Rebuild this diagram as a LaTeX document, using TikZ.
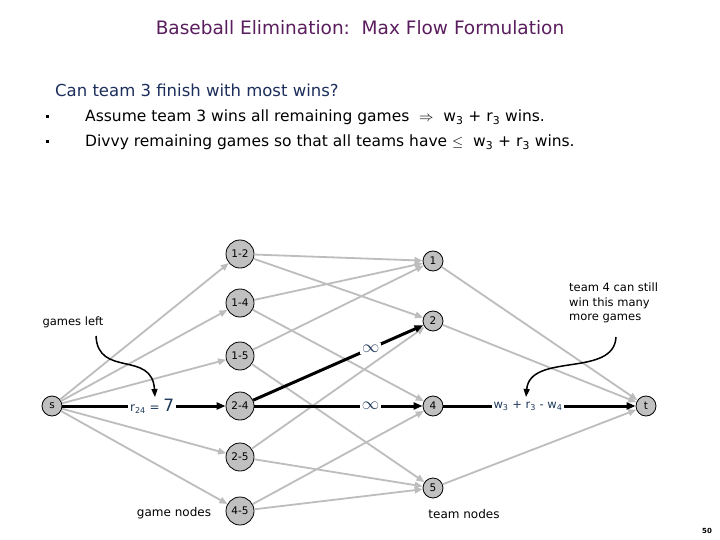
\documentclass[tikz,border=0pt]{standalone}
\usepackage{fontspec}
\setmainfont{DejaVu Sans}
\usetikzlibrary{arrows.meta}
\definecolor{ttl}{HTML}{5A1E5E}
\definecolor{qblue}{HTML}{1C2E5C}
\definecolor{lblue}{HTML}{1F3A5A}
\definecolor{edgegray}{HTML}{BDBDBD}
\definecolor{nodegray}{HTML}{C0C0C0}
\begin{document}
\begin{tikzpicture}[x=1pt,y=-1pt,
 game/.style={circle,draw=black,line width=0.8pt,fill=nodegray,minimum size=28pt,inner sep=0pt,font=\fontsize{10.5}{12}\selectfont},
 team/.style={circle,draw=black,line width=0.8pt,fill=nodegray,minimum size=20pt,inner sep=0pt,font=\fontsize{10.5}{12}\selectfont},
 gedge/.style={draw=edgegray,line width=1.8pt,-{Triangle[length=8pt,width=6.5pt]}},
 bedge/.style={draw=black,line width=3pt,-{Triangle[length=9pt,width=7pt]}},
 lbl/.style={fill=white,text=lblue,inner sep=2pt,font=\fontsize{12}{14}\selectfont},
 note/.style={font=\fontsize{11.5}{14.5}\selectfont,align=left,inner sep=0pt},
 curvy/.style={draw=black,line width=1.5pt,-{Triangle[length=8pt,width=6pt]}},
 bul/.style={font=\fontsize{15.5}{17}\selectfont,anchor=west,inner sep=0pt}]
\useasboundingbox (0,0) rectangle (720,540);
\fill[white] (0,0) rectangle (720,540);

% texts
\node[text=ttl,font=\fontsize{18.5}{20}\selectfont] (title) at (360,28) {Baseball Elimination:\ \ Max Flow Formulation};
\node[text=qblue,font=\fontsize{16.5}{18}\selectfont,anchor=west,inner sep=0pt] (q) at (55,90) {Can team 3 finish with most wins?};
\fill (46,115.5) rectangle (49,118.5);
\fill (46,140.5) rectangle (49,143.5);
\node[bul] (b1) at (85,117) {Assume team 3 wins all remaining games\ \ $\Rightarrow$\ \ w\textsubscript{3} + r\textsubscript{3} wins.};
\node[bul] (b2) at (85,142) {Divvy remaining games so that all teams have $\le$\ \ w\textsubscript{3} + r\textsubscript{3} wins.};

% nodes
\node[team] (s) at (52,406) {s};
\node[game] (g12) at (240,254) {1-2};
\node[game] (g14) at (240,303) {1-4};
\node[game] (g15) at (240,356) {1-5};
\node[game] (g24) at (240,406) {2-4};
\node[game] (g25) at (240,457) {2-5};
\node[game] (g45) at (240,511) {4-5};
\node[team] (t1) at (433,261) {1};
\node[team] (t2) at (433,321) {2};
\node[team] (t4) at (433,406) {4};
\node[team] (t5) at (433,488) {5};
\node[team] (t) at (646,406) {t};

% gray edges
\foreach \g in {g12,g14,g15,g25,g45} \draw[gedge] (s) -- (\g);
\draw[gedge] (g12) -- (t1);
\draw[gedge] (g12) -- (t2);
\draw[gedge] (g14) -- (t1);
\draw[gedge] (g14) -- (t4);
\draw[gedge] (g15) -- (t1);
\draw[gedge] (g15) -- (t5);
\draw[gedge] (g25) -- (t2);
\draw[gedge] (g25) -- (t5);
\draw[gedge] (g45) -- (t4);
\draw[gedge] (g45) -- (t5);
\draw[gedge] (t1) -- (t);
\draw[gedge] (t2) -- (t);
\draw[gedge] (t5) -- (t);

% black edges
\draw[bedge] (s) -- node[lbl,pos=0.55] {r\textsubscript{24} = {\fontsize{17}{17}\selectfont 7}} (g24);
\draw[bedge] (g24) -- node[lbl,pos=0.69,font=\fontsize{17}{17}\selectfont] {$\infty$} (t2);
\draw[bedge] (g24) -- node[lbl,pos=0.69,font=\fontsize{17}{17}\selectfont] {$\infty$} (t4);
\draw[bedge] (t4) -- node[lbl,pos=0.44,font=\fontsize{11.5}{14}\selectfont] {w\textsubscript{3} + r\textsubscript{3} - w\textsubscript{4}} (t);

% annotations
\node[note] (gl) at (73,322) {games left};
\node[note,anchor=north west] (tn4) at (569,283) {team 4 can still\\win this many\\more games};
\node[note,font=\fontsize{12}{14}\selectfont] (gn) at (174,513) {game nodes};
\node[note,font=\fontsize{12}{14}\selectfont] (tn) at (464,514) {team nodes};
\node[font=\bfseries\fontsize{7}{8}\selectfont] (pg) at (707,531) {50};

\coordinate (a1) at (96,336);
\coordinate (a1e) at (155,397);
\coordinate (a2) at (616,337);
\coordinate (a2e) at (526,397);
\draw[curvy] (a1) .. controls (98,378) and (152,350) .. (a1e);
\draw[curvy] (a2) .. controls (614,378) and (530,352) .. (a2e);
\end{tikzpicture}
\end{document}
